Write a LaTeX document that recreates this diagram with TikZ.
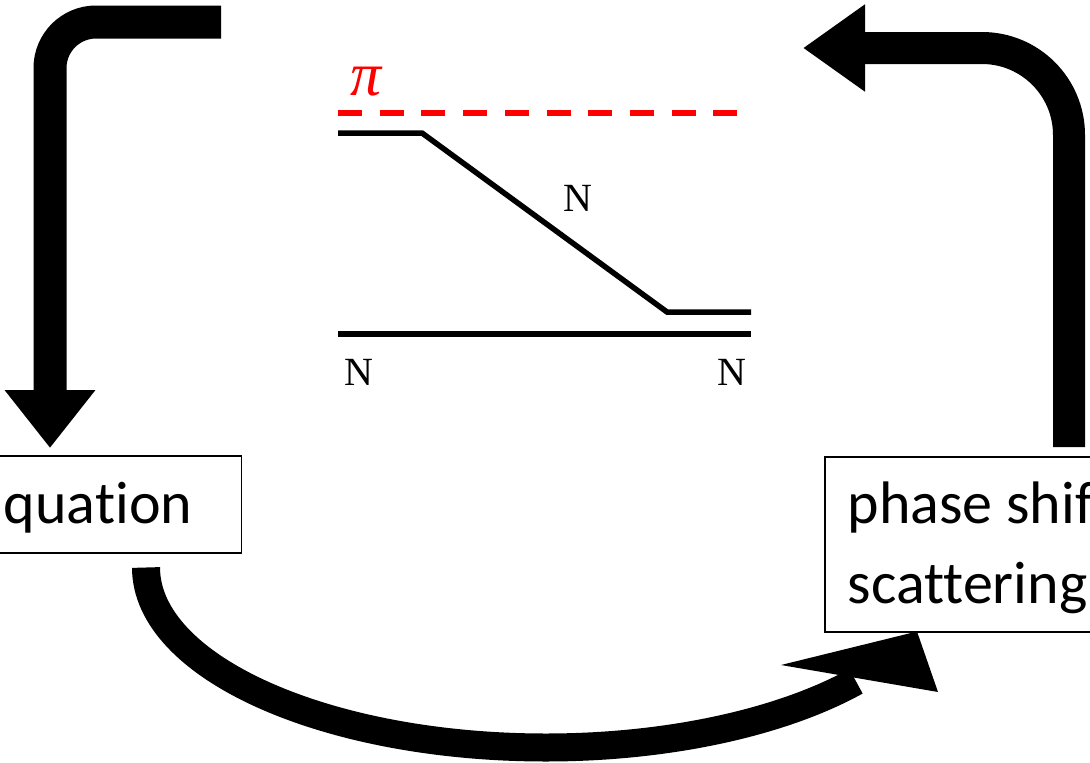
\documentclass[tikz,border=0pt]{standalone}
\usepackage{fontspec}
\setmainfont{Carlito}[Ligatures=NoCommon]
\newfontfamily\serifN{Liberation Serif}
\usetikzlibrary{arrows.meta}
\tikzset{
  box/.style={draw, line width=1.5pt, fill=white, inner ysep=0pt,
    font=\fontsize{60}{80}\selectfont},
  nucline/.style={line width=5.5pt},
  pionline/.style={red, line width=6pt, dash pattern=on 24pt off 17.7pt},
  nlabel/.style={font=\serifN\fontsize{40}{40}\selectfont},
  bigflow/.style={line width=33pt, rounded corners=#1},
}
\begin{document}
\begin{tikzpicture}[x=1pt, y=-1pt]
  \useasboundingbox (0,0) rectangle (1090,763);
  \clip (0,0) rectangle (1090,763);
  % --- boxes ---
  \node[box, anchor=north east, minimum height=97, inner xsep=49,
    text height=68, text depth=29] (eq) at (242,455) {quation};
  \node[box, anchor=north west, inner xsep=23, align=left,
    text height=147, text depth=28] (ps) at (824,456) {phase shift\\scattering};
  % --- diagram: pion and nucleon lines ---
  \draw[pionline] (338,113) -- (741,113);
  \node[red, font=\serifN\itshape\fontsize{62}{62}\selectfont] (pi) at (366,82) {π};
  \draw[nucline] (338,133) -- (422,133) -- (667,312) -- (751,312);
  \draw[nucline] (338,334) -- (751,334);
  \node[nlabel] (nmid) at (578,198) {N};
  \node[nlabel] (nleft) at (359,372) {N};
  \node[nlabel] (nright) at (732,372) {N};
  % --- arrows ---
  \coordinate (topL) at (221,22);
  \coordinate (inL) at ([xshift=-192pt,yshift=7pt]eq.north east);
  \draw[bigflow=46, -{Triangle[width=87pt,length=58pt]}] (topL) -| (inL);
  \coordinate (outR) at ([xshift=245pt,yshift=9pt]ps.north west);
  \coordinate (tipR) at (803,48);
  \draw[bigflow=87, line width=32pt, -{Triangle[width=83pt,length=62pt]}] (outR) |- (tipR);
  \coordinate (outB) at ([xshift=-96pt,yshift=-14pt]eq.south east);
  \coordinate (tipB) at ([xshift=93pt,yshift=1pt]ps.south west);
  \draw[line width=28pt] (outB) arc[start angle=180, end angle=39.2, x radius=400, y radius=180];
  \fill (tipB) -- (781,665) -- (938,692) -- cycle;
\end{tikzpicture}
\end{document}
